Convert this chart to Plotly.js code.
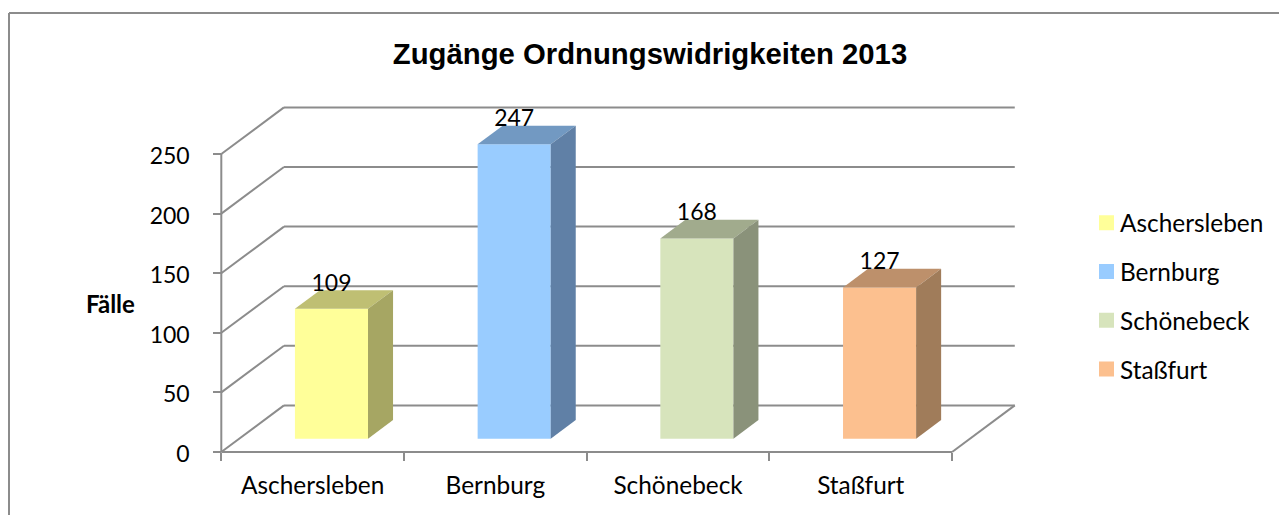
<!DOCTYPE html>
<html><head><meta charset="utf-8">
<script src="https://cdn.plot.ly/plotly-3.0.1.min.js"></script>
<style>html,body{margin:0;padding:0;background:#fff;overflow:hidden}</style>
</head><body><div id="chart" style="width:1279px;height:515px"></div>
<script>
const categories = ['Aschersleben','Bernburg','Schönebeck','Staßfurt'];
const values = [109,247,168,127];
const frontColors = ['#FFFF99','#99CCFF','#D7E4BC','#FCC08F'];
const topColors = ['#BFBF73','#7299C2','#A1AB8D','#BD906B'];
const sideColors = ['#A6A663','#6080A6','#8A927A','#A07C5A'];
const yTicks = [0,50,100,150,200,250];

const FONT='Lato, Carlito, sans-serif', GREY='#8C8C8C', INK='#000';
// oblique projection expressed in axis units
const wallX=0.343, wallY=39.1;          // depth of the floor
const barW=0.4, barStartX=0.103, barBase=11.1; // bar front on the floor
const barDX=0.137, barDY=15.7;          // depth of a bar
const labelLift=20.1;

// plot area in pixels: it reaches the right edge so the legend sits inside it, and is slightly
// larger than the drawn box so that its edge lines are not clipped
const L=211, T=100, W=1068, H=362, padX=10.3, padY=10, pxX=182.7, pxY=1.192;
const fx=p=>(p-L)/W, fy=p=>(T+H-p)/H;

const traces=[];
categories.forEach((c,i)=>{
  traces.push({type:'bar',x:[i+0.5+barStartX],y:[values[i]],base:[barBase],width:[barW],
    marker:{color:frontColors[i],line:{width:0}},showlegend:false,name:c,hoverinfo:'name+y'});
});
categories.forEach((c,i)=>{
  const xl=i+0.5+barStartX-barW/2, xr=xl+barW, b=barBase, t=barBase+values[i];
  traces.push({type:'scatter',mode:'lines',x:[xl,xr,xr+barDX,xl+barDX,xl],y:[t,t,t+barDY,t+barDY,t],
    fill:'toself',fillcolor:topColors[i],line:{width:0,color:topColors[i]},showlegend:false,hoverinfo:'skip'});
  traces.push({type:'scatter',mode:'lines',x:[xr,xr+barDX,xr+barDX,xr,xr],y:[b,b+barDY,t+barDY,t,b],
    fill:'toself',fillcolor:sideColors[i],line:{width:0,color:sideColors[i]},showlegend:false,hoverinfo:'skip'});
});
traces.push({type:'scatter',mode:'text',x:categories.map((c,i)=>i+0.5+barStartX),
  y:values.map(v=>barBase+v+labelLift),text:values.map(String),textposition:'middle center',
  textfont:{family:FONT,size:23,color:INK},showlegend:false,cliponaxis:false,hoverinfo:'skip'});
categories.forEach((c,i)=>{
  traces.push({type:'scatter',mode:'markers',x:[null],y:[null],name:c,legendgroup:c,
    marker:{symbol:'square',size:15,color:frontColors[i]},hoverinfo:'skip'});
});

const seg=(x0,y0,x1,y1)=>({type:'line',xref:'x',yref:'y',x0,y0,x1,y1,layer:'below',line:{color:GREY,width:2}});
const shapes=[];
yTicks.forEach(v=>{
  shapes.push(seg(0,v,wallX,v+wallY));
  shapes.push(seg(wallX,v+wallY,4+wallX,v+wallY));
});
shapes.push(seg(0,0,0,yTicks[yTicks.length-1]));
shapes.push(seg(0,0,4,0));
shapes.push(seg(4,0,4+wallX,wallY));
// outer frame: only its top and left edges reach the picture
shapes.push({type:'line',xref:'paper',yref:'paper',x0:fx(9),x1:fx(1279),y0:fy(13),y1:fy(13),line:{color:GREY,width:2}});
shapes.push({type:'line',xref:'paper',yref:'paper',x0:fx(9),x1:fx(9),y0:fy(13),y1:fy(515),line:{color:GREY,width:2}});

const layout={
  width:1279,height:515,autosize:false,showlegend:true,
  margin:{l:L,r:1279-L-W,t:T,b:515-T-H,pad:0},
  paper_bgcolor:'#fff',plot_bgcolor:'rgba(0,0,0,0)',
  font:{family:FONT,size:24,color:INK},
  title:{text:'<b>Zugänge Ordnungswidrigkeiten 2013</b>',x:650/1279,xanchor:'center',y:1-53.5/515,yanchor:'middle',
    font:{family:'Liberation Sans, Arial, sans-serif',size:29.3,color:INK}},
  xaxis:{range:[-padX/pxX,(W-padX)/pxX],anchor:'free',position:padY/H,tickmode:'array',tickvals:categories.map((c,i)=>i+0.5),ticktext:categories,
    ticks:'outside',ticklen:0,tickwidth:0,tickcolor:'rgba(0,0,0,0)',ticklabelstandoff:12,showgrid:false,zeroline:false,showline:false,fixedrange:true,
    tickfont:{family:FONT,size:24.4,color:INK},
    minor:{tickmode:'array',tickvals:[0,1,2,3,4],ticks:'outside',ticklen:8,tickwidth:2,tickcolor:GREY,showgrid:false}},
  yaxis:{range:[-padY/pxY,(H-padY)/pxY],anchor:'free',position:padX/W,tickmode:'array',tickvals:yTicks,ticks:'outside',ticklen:8,tickwidth:2,tickcolor:GREY,
    showgrid:false,zeroline:false,showline:false,fixedrange:true,ticklabelstandoff:19,ticklabelshift:2,tickfont:{family:FONT,size:23,color:INK}},
  barmode:'overlay',
  shapes,
  annotations:[{text:'<b>Fälle</b>',xref:'paper',yref:'paper',x:fx(110),y:fy(303),xanchor:'center',yanchor:'middle',
    showarrow:false,font:{family:FONT,size:24,color:INK}}],
  legend:{x:fx(1080),xanchor:'left',y:fy(200.5),yanchor:'top',bgcolor:'rgba(0,0,0,0)',borderwidth:0,
    tracegroupgap:14,font:{family:FONT,size:24.4,color:INK},itemclick:false,itemdoubleclick:false}
};
Plotly.newPlot('chart',traces,layout,{displayModeBar:false,responsive:false}).then(()=>{
  document.querySelectorAll('#chart .legendpoints').forEach(g=>g.setAttribute('transform','translate(6.5,0)'));
});
</script></body></html>
